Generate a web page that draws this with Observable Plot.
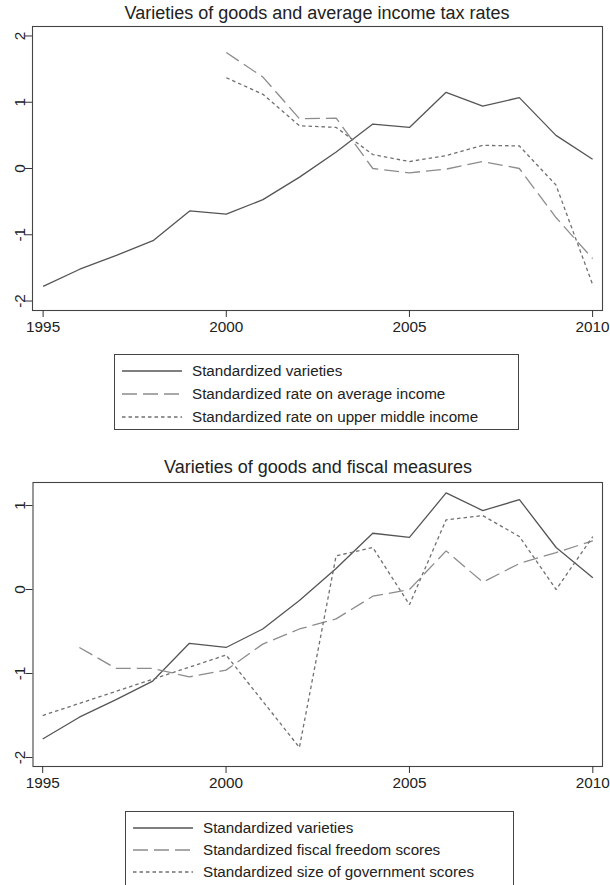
<!DOCTYPE html>
<html>
<head>
<meta charset="utf-8">
<script src="https://cdn.jsdelivr.net/npm/d3@7"></script>
<script src="https://cdn.jsdelivr.net/npm/@observablehq/plot@0.6"></script>
<style>
  body { margin: 0; background: #fff; font-family: "Liberation Sans", Arial, sans-serif; color: #222; }
  #page { position: relative; width: 610px; height: 885px; overflow: hidden; background: #fff; }
  #page svg { position: absolute; left: 0; overflow: visible; }
  .title { position: absolute; font-size: 18px; line-height: 22px; white-space: nowrap; transform: translateX(-50%); color: #222; }
  .legend { position: absolute; border: 1px solid #444; box-sizing: border-box; background: #fff; }
  .legend .row { position: absolute; height: 22px; line-height: 22px; font-size: 15.2px; white-space: nowrap; color: #222; }
  .legend .row svg { position: absolute; left: 0; top: 0; }
</style>
</head>
<body>
<div id="page"></div>
<script>
// Years covered by each series
const years = [1995, 1996, 1997, 1998, 1999, 2000, 2001, 2002, 2003, 2004, 2005, 2006, 2007, 2008, 2009, 2010];
const taxYears = [2000, 2001, 2002, 2003, 2004, 2005, 2006, 2007, 2008, 2009, 2010];
const fiscalYears = [1996, 1997, 1998, 1999, 2000, 2001, 2002, 2003, 2004, 2005, 2006, 2007, 2008, 2009, 2010];
const govYears = [1995, 2000, 2002, 2003, 2004, 2005, 2006, 2007, 2008, 2009, 2010];

// Standardized series values
const varieties = [-1.78, -1.52, -1.31, -1.09, -0.64, -0.69, -0.47, -0.13, 0.25, 0.67, 0.62, 1.15, 0.94, 1.07, 0.50, 0.14];
const rateAverage = [1.75, 1.38, 0.75, 0.76, 0.0, -0.065, -0.01, 0.105, 0.0, -0.74, -1.36];
const rateUpperMiddle = [1.37, 1.12, 0.645, 0.62, 0.21, 0.105, 0.195, 0.35, 0.34, -0.25, -1.75];
const fiscalFreedom = [-0.69, -0.94, -0.94, -1.04, -0.96, -0.65, -0.47, -0.35, -0.08, 0.0, 0.46, 0.087, 0.31, 0.44, 0.58];
const govSize = [-1.5, -0.78, -1.88, 0.40, 0.50, -0.18, 0.83, 0.88, 0.63, 0.0, 0.63];

// Titles, legend labels and tick values
const titles = ["Varieties of goods and average income tax rates", "Varieties of goods and fiscal measures"];
const labelsTop = ["Standardized varieties", "Standardized rate on average income", "Standardized rate on upper middle income"];
const labelsBottom = ["Standardized varieties", "Standardized fiscal freedom scores", "Standardized size of government scores"];
const xTicks = [1995, 2000, 2005, 2010];
const yTicksTop = [-2, -1, 0, 1, 2];
const yTicksBottom = [-2, -1, 0, 1];

const styles = {
  solid: {stroke: "#555", dash: null, width: 1.3},
  long: {stroke: "#8c8c8c", dash: "15,6", width: 1.3},
  short: {stroke: "#707070", dash: "3.5,3", width: 1.3}
};

const rows = (xs, ys) => xs.map((year, i) => ({year, value: ys[i]}));
const page = document.getElementById("page");

function drawChart({top, height, margin, xDomain, yDomain, yTicks, series}) {
  const svg = Plot.plot({
    width: 610,
    height,
    marginTop: margin.top,
    marginRight: margin.right,
    marginBottom: margin.bottom,
    marginLeft: margin.left,
    style: {fontFamily: "'Liberation Sans', Arial, sans-serif", fontSize: "15.3px", color: "#333", background: "transparent"},
    x: {domain: xDomain},
    y: {domain: yDomain},
    marks: [
      Plot.frame({stroke: "#444", strokeWidth: 1.1}),
      Plot.axisX({ticks: xTicks, tickSize: 7, tickPadding: 4, tickFormat: d => String(d), label: null, fill: "#222"}),
      Plot.axisY({ticks: yTicks, tickSize: 7, tickRotate: -90, tickPadding: 1, tickFormat: d => String(d), label: null, fill: "#222"}),
      ...series.map(s => Plot.line(s.data, {
        x: "year", y: "value",
        stroke: s.style.stroke, strokeWidth: s.style.width,
        strokeDasharray: s.style.dash, strokeLinejoin: "miter", strokeLinecap: "butt"
      }))
    ]
  });
  svg.style.top = top + "px";
  page.appendChild(svg);
}

function drawTitle(text, cx, top) {
  const d = document.createElement("div");
  d.className = "title";
  d.textContent = text;
  d.style.left = cx + "px";
  d.style.top = top + "px";
  page.appendChild(d);
}

function drawLegend({left, top, width, height, rowTop, rowStep, sampleX, textX, items}) {
  const box = document.createElement("div");
  box.className = "legend";
  Object.assign(box.style, {left: left + "px", top: top + "px", width: width + "px", height: height + "px"});
  items.forEach((it, i) => {
    const r = document.createElement("div");
    r.className = "row";
    r.style.left = sampleX + "px";
    r.style.top = (rowTop + i * rowStep - 11) + "px";
    r.style.paddingLeft = (textX - sampleX) + "px";
    r.innerHTML = `<svg width="60" height="22"><line x1="0" x2="60" y1="11" y2="11" stroke="${it.style.stroke}" stroke-width="${it.style.width}" ${it.style.dash ? `stroke-dasharray="${it.style.dash}"` : ""}/></svg>`;
    r.appendChild(document.createTextNode(it.label));
    box.appendChild(r);
  });
  page.appendChild(box);
}

// Upper panel: varieties and income tax rates
drawChart({
  top: 0, height: 345,
  margin: {top: 26, right: 8, bottom: 35, left: 32},
  xDomain: [1994.71, 2010.27],
  yDomain: [-2.143, 2.143],
  yTicks: yTicksTop,
  series: [
    {data: rows(years, varieties), style: styles.solid},
    {data: rows(taxYears, rateAverage), style: styles.long},
    {data: rows(taxYears, rateUpperMiddle), style: styles.short}
  ]
});
drawTitle(titles[0], 317, 2);
drawLegend({
  left: 114, top: 354, width: 405, height: 76,
  rowTop: 16, rowStep: 23, sampleX: 7, textX: 77,
  items: [
    {label: labelsTop[0], style: styles.solid},
    {label: labelsTop[1], style: styles.long},
    {label: labelsTop[2], style: styles.short}
  ]
});

// Lower panel: varieties and fiscal measures
drawChart({
  top: 450, height: 351,
  margin: {top: 32, right: 8, bottom: 35, left: 32.5},
  xDomain: [1994.736, 2010.264],
  yDomain: [-2.107, 1.274],
  yTicks: yTicksBottom,
  series: [
    {data: rows(years, varieties), style: styles.solid},
    {data: rows(fiscalYears, fiscalFreedom), style: styles.long},
    {data: rows(govYears, govSize), style: styles.short}
  ]
});
drawTitle(titles[1], 318, 456);
drawLegend({
  left: 125, top: 811, width: 389, height: 90,
  rowTop: 16, rowStep: 22, sampleX: 7, textX: 77,
  items: [
    {label: labelsBottom[0], style: styles.solid},
    {label: labelsBottom[1], style: styles.long},
    {label: labelsBottom[2], style: styles.short}
  ]
});
</script>
</body>
</html>
